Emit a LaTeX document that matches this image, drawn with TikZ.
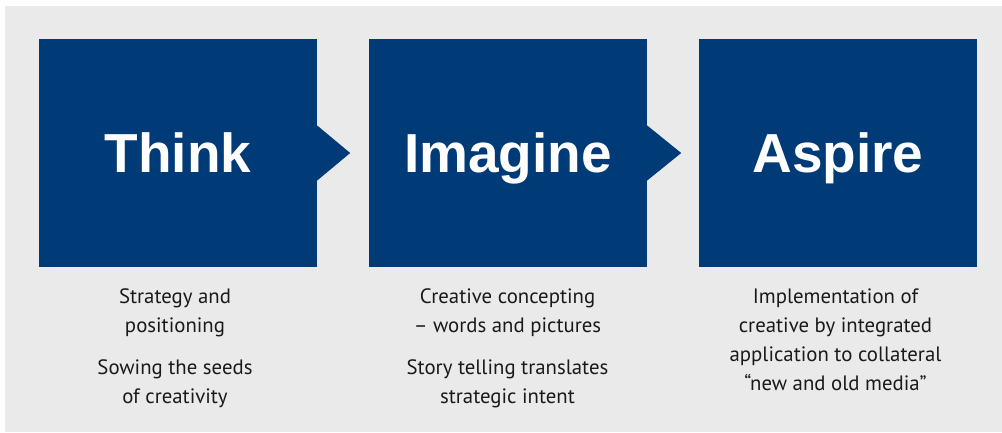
\documentclass[tikz,border=0pt]{standalone}
\usepackage{fontspec}
\setmainfont{PT Sans}
\newfontfamily\headfont{Liberation Sans}
\usetikzlibrary{calc}
\definecolor{navy}{HTML}{003A77}
\definecolor{panel}{HTML}{EAEAEA}
\definecolor{ink}{HTML}{1A1A1A}
\begin{document}
\begin{tikzpicture}[x=1pt,y=-1pt,
  stagebox/.style={fill=navy, minimum width=278pt, minimum height=228pt,
    inner sep=0pt, text=white, text height=39.5pt, text depth=0pt,
    font=\headfont\bfseries\fontsize{55}{60}\selectfont},
  chevron/.style={fill=navy},
  caption/.style={align=center, text=ink, inner sep=0pt, anchor=base,
    font=\fontsize{20.8}{29}\selectfont}]
  \useasboundingbox (0,0) rectangle (1002,432);
  \fill[panel] (5,6) rectangle (1002,432);

  % three stages
  \node[stagebox] (think)   at (178,153) {Think};
  \node[stagebox] (imagine) at (508,153) {Imagine};
  \node[stagebox] (aspire)  at (838,153) {Aspire};

  % pointers between stages
  \fill[chevron] ($(think.east)+(0,-27.5)$) -- ($(think.east)+(33,0)$)
    -- ($(think.east)+(0,27.5)$) -- cycle;
  \fill[chevron] ($(imagine.east)+(0,-27.5)$) -- ($(imagine.east)+(34,0)$)
    -- ($(imagine.east)+(0,27.5)$) -- cycle;

  % descriptions (anchored on the baseline of their last line)
  \node[caption] (thinktxt) at (175,403)
    {Strategy and\\positioning\\[13pt]Sowing the seeds\\of creativity};
  \node[caption] (imaginetxt) at (507.5,403)
    {Creative concepting\\– words and pictures\\[13pt]Story telling translates\\strategic intent};
  \node[caption] (aspiretxt) at (835.5,390)
    {Implementation of\\creative by integrated\\application to collateral\\“new and old media”};
\end{tikzpicture}
\end{document}
